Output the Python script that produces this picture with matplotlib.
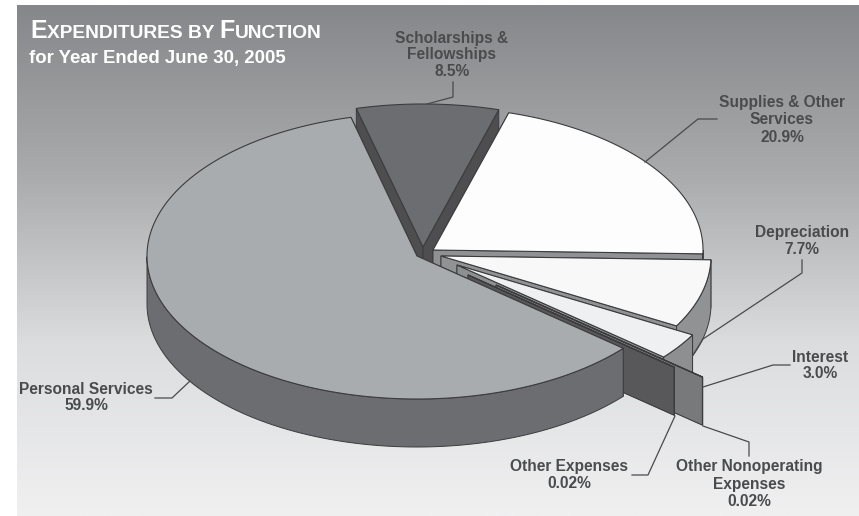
import numpy as np
import matplotlib
matplotlib.use('Agg')
import matplotlib.pyplot as plt
from matplotlib.patches import Polygon

# data
names = ['Scholarships &\nFellowships', 'Supplies & Other\nServices', 'Depreciation', 'Interest',
         'Other Nonoperating\nExpenses', 'Other Expenses', 'Personal Services']
pct_labels = ['8.5%', '20.9%', '7.7%', '3.0%', '0.02%', '0.02%', '59.9%']
shares = [8.5, 20.9, 7.7, 3.0, 0.02, 0.02, 59.9]

plt.rcParams['font.family'] = ['Liberation Sans', 'DejaVu Sans']

fig = plt.figure(figsize=(8.59, 5.16), dpi=100)
ax = fig.add_axes([0, 0, 1, 1])
ax.set_xlim(0, 859)
ax.set_ylim(516, 0)
ax.axis('off')

# background gradient
grad = np.linspace(0, 1, 256).reshape(-1, 1)
cmap = matplotlib.colors.LinearSegmentedColormap.from_list('bg', ['#85878a', '#a9abad', '#dcdddf', '#f0f0f1'])
ax.imshow(grad, cmap=cmap, extent=(17, 859, 516, 5), aspect='auto', zorder=0)
ax.set_xlim(0, 859)
ax.set_ylim(516, 0)

# pie geometry, pixels
rx, ry = 270, 143
thick = 48
start_angle = 104.3
# drawing order is back to front, same order as the data lists
centers = [(423, 247), (433, 250), (441, 256), (457, 265), (496, 285), (468, 275), (417, 256)]
top_cols = ['#6c6d70', '#fdfdfd', '#f8f8f9', '#eef0f2', '#77797b', '#58585a', '#a9acae']
wall_cols = ['#4e4e51', '#8f9193', '#909294', '#8d8f91', '#77797b', '#58585a', '#6c6d70']
edge = '#3c3c3e'

# angle ranges go clockwise from start_angle
ang = start_angle
z = 2
for share, (cx, cy), top, wall in zip(shares, centers, top_cols, wall_cols):
    a0 = ang
    a1 = ang - share * 3.6
    ang = a1
    t = np.radians(np.linspace(a0, a1, 800))
    xs = cx + rx * np.cos(t)
    ys = cy - ry * np.sin(t)
    # cut faces
    for i in [0, -1]:
        wall_pts = [(cx, cy), (xs[i], ys[i]), (xs[i], ys[i] + thick), (cx, cy + thick)]
        ax.add_patch(Polygon(wall_pts, closed=True, fc=wall, ec=edge, lw=0.7, zorder=z))
    # rim, only the front part shows
    front = np.sin(t) <= 0
    if front.sum() > 1:
        fx, fy = xs[front], ys[front]
        rim = np.column_stack([np.r_[fx, fx[::-1]], np.r_[fy, fy[::-1] + thick]])
        ax.add_patch(Polygon(rim, closed=True, fc=wall, ec=edge, lw=0.7, zorder=z))
    face = np.column_stack([np.r_[cx, xs], np.r_[cy, ys]])
    ax.add_patch(Polygon(face, closed=True, fc=top, ec=edge, lw=0.8, zorder=z))
    z += 1

# labels
label_pos = [(452, 38), (782, 103), (802, 232), (820, 357), (749, 467), (569, 467), (86, 389)]
leaders = [[(453, 82), (453, 97), (427, 104)],
           [(717, 119), (698, 119), (645, 162)],
           [(802, 260), (802, 273), (703, 339), (693, 355)],
           [(790, 365), (773, 365), (703, 387)],
           [(749, 456), (749, 442), (703, 426)],
           [(632, 475), (648, 475), (675, 416)],
           [(155, 398), (172, 398), (190, 381)]]
line_step = 17
for name, pct, (lx, ly), pts in zip(names, pct_labels, label_pos, leaders):
    lines = name.split('\n') + [pct]
    for i, s in enumerate(lines):
        ax.text(lx, ly + i * line_step, s, ha='center', va='center', fontsize=11.2,
                fontweight='bold', color='#4a4b4d', zorder=20)
    ax.plot([p[0] for p in pts], [p[1] for p in pts], color='#4a4a4c', lw=0.9, zorder=19)

# title, small caps built piece by piece
fig.canvas.draw()
renderer = fig.canvas.get_renderer()
x = 30
for s, size in [('E', 18), ('XPENDITURES BY ', 13.8), ('F', 18), ('UNCTION', 13.8)]:
    txt = ax.text(x, 38, s, fontsize=size, fontweight='bold', color='white', va='baseline', ha='left', zorder=21)
    x += txt.get_window_extent(renderer).width
ax.text(29, 63, 'for Year Ended June 30, 2005', fontsize=13.4, fontweight='bold', color='white',
        va='baseline', ha='left', zorder=21)

fig.savefig('out.png', dpi=100)
